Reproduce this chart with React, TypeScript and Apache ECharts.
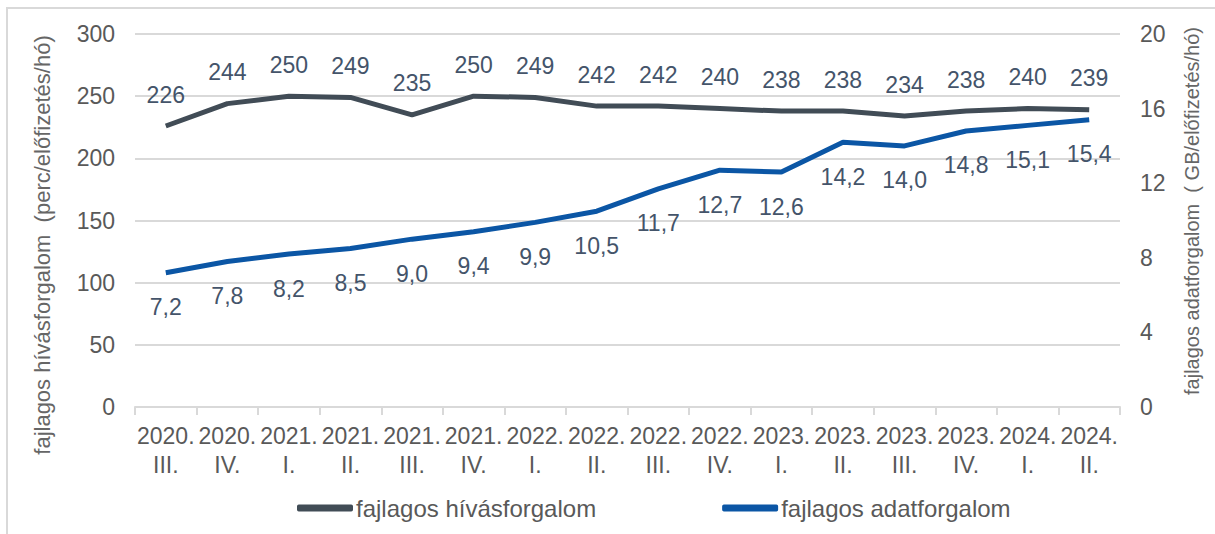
import React, { useEffect, useRef } from "react";
import * as echarts from "echarts";

const categories = [
  "2020.\nIII.", "2020.\nIV.", "2021.\nI.", "2021.\nII.", "2021.\nIII.", "2021.\nIV.",
  "2022.\nI.", "2022.\nII.", "2022.\nIII.", "2022.\nIV.", "2023.\nI.", "2023.\nII.",
  "2023.\nIII.", "2023.\nIV.", "2024.\nI.", "2024.\nII.",
];
const callTraffic = [226, 244, 250, 249, 235, 250, 249, 242, 242, 240, 238, 238, 234, 238, 240, 239];
const dataTraffic = [7.2, 7.8, 8.2, 8.5, 9.0, 9.4, 9.9, 10.5, 11.7, 12.7, 12.6, 14.2, 14.0, 14.8, 15.1, 15.4];
const seriesNames = ["fajlagos hívásforgalom", "fajlagos adatforgalom"];
const axisNames = ["fajlagos hívásforgalom  (perc/előfizetés/hó)", "fajlagos adatforgalom  ( GB/előfizetés/hó)"];

const FONT = "Liberation Sans, Arial, sans-serif";
const DARK = "#414c56";
const BLUE = "#0b56a5";
const LABEL = "#44546a";
const TICK = "#595959";
const TITLE = "#666666";

export default function App() {
  const ref = useRef<HTMLDivElement>(null);
  useEffect(() => {
    if (!ref.current) return;
    const chart = echarts.init(ref.current, null, { renderer: "svg" });
    chart.setOption({
      animation: false,
      textStyle: { fontFamily: FONT },
      grid: { left: 135, right: 95, top: 34, bottom: 127 },
      graphic: [
        {
          type: "rect",
          shape: { x: 7, y: 8, width: 1400, height: 700 },
          style: { fill: "none", stroke: "#d9d9d9", lineWidth: 2 },
          silent: true,
        },
        {
          type: "text",
          x: 42,
          y: 245,
          rotation: Math.PI / 2,
          style: {
            text: axisNames[0],
            fontSize: 22,
            fontFamily: FONT,
            fill: TITLE,
            align: "center",
            verticalAlign: "middle",
          },
          silent: true,
        },
        {
          type: "text",
          x: 1192,
          y: 211,
          rotation: Math.PI / 2,
          style: {
            text: axisNames[1],
            fontSize: 20,
            fontFamily: FONT,
            fill: TITLE,
            align: "center",
            verticalAlign: "middle",
          },
          silent: true,
        },
      ],
      legend: {
        top: 491,
        left: 292,
        itemGap: 126,
        itemWidth: 56,
        itemHeight: 7,
        icon: "roundRect",
        textStyle: { fontSize: 24, color: TICK, fontFamily: FONT, padding: [0, 0, 0, -2] },
        data: seriesNames,
      },
      xAxis: {
        type: "category",
        data: categories,
        boundaryGap: true,
        axisLine: { lineStyle: { color: "#d9d9d9", width: 2 } },
        axisTick: { show: true, length: 8, lineStyle: { color: "#d9d9d9", width: 2 } },
        axisLabel: { fontSize: 23, color: TICK, lineHeight: 29, margin: 14, interval: 0, fontFamily: FONT },
      },
      yAxis: [
        {
          type: "value",
          min: 0,
          max: 300,
          interval: 50,
          axisLabel: { fontSize: 23, color: TICK, margin: 20, fontFamily: FONT },
          axisLine: { show: false },
          axisTick: { show: false },
          splitLine: { lineStyle: { color: "#d9d9d9", width: 2 } },
        },
        {
          type: "value",
          min: 0,
          max: 20,
          interval: 4,
          axisLabel: { fontSize: 23, color: TICK, margin: 20, fontFamily: FONT },
          axisLine: { show: false },
          axisTick: { show: false },
          splitLine: { show: false },
        },
      ],
      series: [
        {
          name: seriesNames[0],
          type: "line",
          yAxisIndex: 0,
          data: callTraffic,
          symbol: "circle",
          symbolSize: 0,
          showSymbol: true,
          lineStyle: { color: DARK, width: 5 },
          itemStyle: { color: DARK },
          label: {
            show: true,
            position: "top",
            distance: 20,
            fontSize: 23,
            color: LABEL,
            fontFamily: FONT,
          },
        },
        {
          name: seriesNames[1],
          type: "line",
          yAxisIndex: 1,
          data: dataTraffic,
          symbol: "circle",
          symbolSize: 0,
          showSymbol: true,
          lineStyle: { color: BLUE, width: 5 },
          itemStyle: { color: BLUE },
          label: {
            show: true,
            position: "bottom",
            distance: 23,
            fontSize: 23,
            color: LABEL,
            fontFamily: FONT,
            formatter: (p: any) => Number(p.value).toFixed(1).replace(".", ","),
          },
        },
      ],
    });
    return () => chart.dispose();
  }, []);
  return (
    <div
      ref={ref}
      style={{ position: "absolute", left: 0, top: 0, width: 1215, height: 534, background: "#fff" }}
    />
  );
}
